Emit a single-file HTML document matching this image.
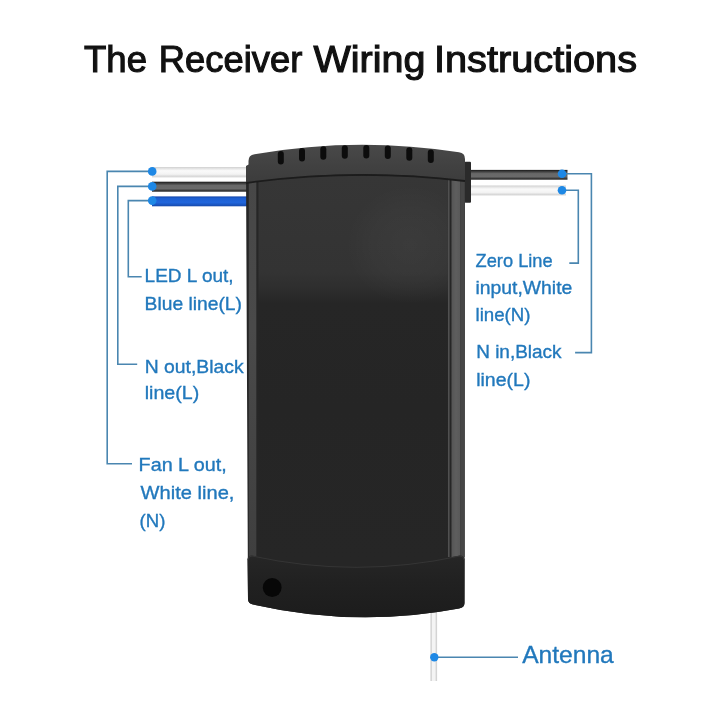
<!DOCTYPE html>
<html>
<head>
<meta charset="utf-8">
<style>
html,body{margin:0;padding:0;background:#fff;width:720px;height:720px;overflow:hidden;}
svg{display:block;}
text{font-family:"Liberation Sans",sans-serif;}
svg{will-change:transform;}
.lbl{fill:#2178bc;font-size:18.6px;stroke:#2178bc;stroke-width:0.35px;}
.ln{stroke:#4a86b0;stroke-width:1.6;fill:none;}
.dot{fill:#1e88e5;}
</style>
</head>
<body>
<svg width="720" height="720" viewBox="0 0 720 720">
<defs>
  <linearGradient id="gWhite" x1="0" y1="0" x2="0" y2="1">
    <stop offset="0" stop-color="#d0d0d0"/>
    <stop offset="0.15" stop-color="#e4e4e4"/>
    <stop offset="0.35" stop-color="#fafafa"/>
    <stop offset="0.68" stop-color="#f3f3f3"/>
    <stop offset="0.88" stop-color="#d8d8d8"/>
    <stop offset="1" stop-color="#e6e6e6"/>
  </linearGradient>
  <linearGradient id="gDark" x1="0" y1="0" x2="0" y2="1">
    <stop offset="0" stop-color="#181818"/>
    <stop offset="0.15" stop-color="#3a3a3a"/>
    <stop offset="0.38" stop-color="#686868"/>
    <stop offset="0.7" stop-color="#6a6a6a"/>
    <stop offset="0.9" stop-color="#333"/>
    <stop offset="1" stop-color="#222"/>
  </linearGradient>
  <linearGradient id="gBlue" x1="0" y1="0" x2="0" y2="1">
    <stop offset="0" stop-color="#1446aa"/>
    <stop offset="0.2" stop-color="#1d5ed0"/>
    <stop offset="0.6" stop-color="#2066dc"/>
    <stop offset="0.85" stop-color="#1a55c0"/>
    <stop offset="1" stop-color="#1648a8"/>
  </linearGradient>
  <linearGradient id="gRailL" x1="0" y1="0" x2="0" y2="1">
    <stop offset="0" stop-color="#474747"/>
    <stop offset="0.4" stop-color="#4a4a4a"/>
    <stop offset="1" stop-color="#3f3f3f"/>
  </linearGradient>
  <linearGradient id="gRailR" x1="0" y1="0" x2="1" y2="0">
    <stop offset="0" stop-color="#555"/>
    <stop offset="0.5" stop-color="#5e5e5e"/>
    <stop offset="1" stop-color="#585858"/>
  </linearGradient>
  <linearGradient id="gBody" gradientUnits="userSpaceOnUse" x1="0" y1="176" x2="0" y2="561">
    <stop offset="0" stop-color="#363636"/>
    <stop offset="0.25" stop-color="#333"/>
    <stop offset="0.29" stop-color="#2e2e2e"/>
    <stop offset="0.33" stop-color="#262626"/>
    <stop offset="0.6" stop-color="#252525"/>
    <stop offset="1" stop-color="#262626"/>
  </linearGradient>
  <radialGradient id="gRefl" gradientUnits="userSpaceOnUse" cx="410" cy="245" r="80" gradientTransform="translate(410 245) scale(0.8 0.75) translate(-410 -245)">
    <stop offset="0" stop-color="#ffffff" stop-opacity="0.035"/>
    <stop offset="0.6" stop-color="#ffffff" stop-opacity="0.02"/>
    <stop offset="1" stop-color="#ffffff" stop-opacity="0"/>
  </radialGradient>
  <linearGradient id="gCap" gradientUnits="userSpaceOnUse" x1="0" y1="144" x2="0" y2="182">
    <stop offset="0" stop-color="#494949"/>
    <stop offset="0.5" stop-color="#424242"/>
    <stop offset="1" stop-color="#3c3c3c"/>
  </linearGradient>
  <linearGradient id="gBot" gradientUnits="userSpaceOnUse" x1="0" y1="556" x2="0" y2="618">
    <stop offset="0" stop-color="#262626"/>
    <stop offset="0.4" stop-color="#212121"/>
    <stop offset="1" stop-color="#1c1c1c"/>
  </linearGradient>
</defs>

<!-- title -->
<g font-size="36.5" fill="#111" stroke="#111" stroke-width="1.1">
<text x="84" y="72" textLength="63" lengthAdjust="spacingAndGlyphs">The</text>
<text x="158.8" y="72" textLength="143.5" lengthAdjust="spacingAndGlyphs">Receiver</text>
<text x="313.5" y="72" textLength="112" lengthAdjust="spacingAndGlyphs">Wiring</text>
<text x="434" y="72" textLength="203" lengthAdjust="spacingAndGlyphs">Instructions</text>
</g>

<!-- left wires -->
<rect x="152" y="167" width="96" height="10.6" fill="url(#gWhite)"/>
<rect x="152" y="181.7" width="96" height="10" fill="url(#gDark)"/>
<rect x="152" y="196.4" width="96" height="9.9" fill="url(#gBlue)"/>

<!-- right wires -->
<rect x="468" y="169.9" width="99.5" height="9.8" fill="url(#gDark)"/>
<rect x="468" y="185.5" width="98" height="10.2" fill="url(#gWhite)"/>
<!-- right grommet -->
<rect x="464.5" y="161.7" width="6.5" height="41" rx="1" fill="#2a2a2a"/>

<!-- antenna wire -->
<rect x="431" y="605" width="5.5" height="76" fill="#f4f4f4"/>
<rect x="430.4" y="605" width="1.5" height="76" fill="#d4d4d4"/>
<rect x="435.6" y="605" width="1.5" height="76" fill="#d4d4d4"/>

<!-- device body -->
<path d="M246,166 L465,166 L464.5,603 Q464.5,607.5 459,608.5 Q356,628 253,604.5 Q248,603.5 248,599 Z" fill="#262626"/>
<!-- rails -->
<rect x="248.8" y="176" width="7.5" height="381" fill="url(#gRailL)"/>
<rect x="447.9" y="176" width="1.7" height="381" fill="#505050"/>
<rect x="451.5" y="176" width="9" height="381" fill="url(#gRailR)"/>
<rect x="460.5" y="176" width="4.3" height="381" fill="#464646"/>
<!-- panel -->
<rect x="258.5" y="176" width="189.4" height="385" fill="url(#gBody)"/>
<rect x="320" y="180" width="128" height="125" fill="url(#gRefl)"/>
<!-- top cap -->
<path d="M248.5,161 Q248.5,155 254.5,154.3 Q356,136.2 459,152.3 Q465,153 465,159 L465,180.5 Q355.5,167.3 246,182.5 L246,166 L248.5,164.5 Z" fill="url(#gCap)"/>
<path d="M246,183 Q355.5,167.8 465,181" stroke="#1c1c1c" stroke-width="1.8" fill="none"/>
<!-- slots -->
<g fill="#0c0c0c">
  <rect x="277.8" y="151" width="6" height="13.5" rx="3"/>
  <rect x="299" y="148" width="6" height="13.5" rx="3"/>
  <rect x="320.3" y="146.2" width="6" height="13.5" rx="3"/>
  <rect x="341.8" y="145.3" width="6" height="13.5" rx="3"/>
  <rect x="363.3" y="145" width="6" height="13.5" rx="3"/>
  <rect x="384.8" y="145.6" width="6" height="13.5" rx="3"/>
  <rect x="406.3" y="147.2" width="6" height="13.5" rx="3"/>
  <rect x="427.8" y="149.6" width="6" height="13.5" rx="3"/>
</g>
<!-- bottom cap -->
<path d="M247.4,560 Q247.4,555.4 252,555.4 Q356,578 460,555.4 Q464.6,555.4 464.6,560 L464.5,603 Q464.5,607.5 459,608.5 Q356,628 253,604.5 Q248,603.5 248,599 Z" fill="url(#gBot)"/>
<path d="M248,560 Q248,556 252,556 Q356,578.6 460,556 Q464,556 464,560" stroke="#353535" stroke-width="1" fill="none"/>
<circle cx="272.2" cy="587.5" r="9.4" fill="#070707"/>

<!-- connector lines -->
<polyline class="ln" points="152,171.4 107.2,171.4 107.2,463.7 132,463.7"/>
<polyline class="ln" points="152,186.4 117.8,186.4 117.8,364.3 137.2,364.3"/>
<polyline class="ln" points="152,200.6 128.3,200.6 128.3,276.7 141.7,276.7"/>
<polyline class="ln" points="562,173.8 591.4,173.8 591.4,352.6 575.1,352.6"/>
<polyline class="ln" points="562,190.3 578.3,190.3 578.3,263.1 569.3,263.1"/>
<polyline class="ln" points="434.3,657.2 518,657.2"/>

<!-- dots -->
<circle class="dot" cx="152.2" cy="171.4" r="4.3"/>
<circle class="dot" cx="152.2" cy="186.4" r="4.3"/>
<circle class="dot" cx="152.2" cy="200.6" r="4.3"/>
<circle class="dot" cx="562" cy="173.8" r="4.3"/>
<circle class="dot" cx="562" cy="190.3" r="4.3"/>
<circle class="dot" cx="434.3" cy="657.2" r="4.2"/>

<!-- labels -->
<text class="lbl" x="144.6" y="282" textLength="89" lengthAdjust="spacingAndGlyphs">LED L out,</text>
<text class="lbl" x="144.6" y="310.1" textLength="97.4" lengthAdjust="spacingAndGlyphs">Blue line(L)</text>
<text class="lbl" x="144.7" y="373" textLength="98.9" lengthAdjust="spacingAndGlyphs">N out,Black</text>
<text class="lbl" x="144.7" y="399.3" textLength="54.5" lengthAdjust="spacingAndGlyphs">line(L)</text>
<text class="lbl" x="138.6" y="471.1" textLength="88.2" lengthAdjust="spacingAndGlyphs">Fan L out,</text>
<text class="lbl" x="140.6" y="499.3" textLength="93.8" lengthAdjust="spacingAndGlyphs">White line,</text>
<text class="lbl" x="139.6" y="526.5" textLength="25.8" lengthAdjust="spacingAndGlyphs">(N)</text>
<text class="lbl" x="475.6" y="267" textLength="77" lengthAdjust="spacingAndGlyphs">Zero Line</text>
<text class="lbl" x="475.5" y="294.1" textLength="96.8" lengthAdjust="spacingAndGlyphs">input,White</text>
<text class="lbl" x="475.5" y="320.5" textLength="55" lengthAdjust="spacingAndGlyphs">line(N)</text>
<text class="lbl" x="476.2" y="358.1" textLength="85.4" lengthAdjust="spacingAndGlyphs">N in,Black</text>
<text class="lbl" x="476.2" y="386" textLength="54.2" lengthAdjust="spacingAndGlyphs">line(L)</text>
<text class="lbl" x="522.2" y="663.4" style="font-size:24.4px" textLength="91.6" lengthAdjust="spacingAndGlyphs">Antenna</text>
</svg>
</body>
</html>
